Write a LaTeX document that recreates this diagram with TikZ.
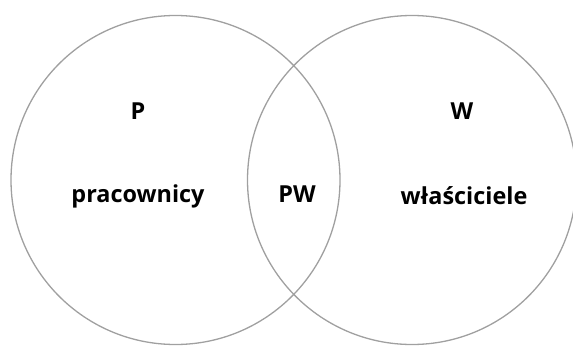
\documentclass[tikz,border=0pt]{standalone}
\usepackage{fontspec}
\setmainfont{Open Sans}
\usepackage{xcolor}
\usepackage{tikz}
\definecolor{szary}{HTML}{A0A0A0}
\tikzset{zbior/.style={draw=szary,circle,line width=1.3bp,inner sep=0pt,minimum size=329bp},
  etyk/.style={inner sep=1pt,font=\fontsize{23.5}{26}\selectfont\bfseries}}
\newcommand{\nzbior}[2]{\node[zbior] (#1) at (#2) {};}
\newcommand{\netyk}[3]{\node[etyk] (#1) at (#2) {#3};}

\begin{document}
\begin{tikzpicture}[x=1bp,y=1bp]
    \useasboundingbox (0,0) rectangle (573,345);
    \nzbior{kolP}{175.5,165}
    \nzbior{kolW}{412,165}

    \netyk{P}{138,234}{P}
    \netyk{prac}{138,149}{pracownicy}
    \netyk{PW}{297,151}{PW}
    \netyk{W}{462,234}{W}
    \netyk{wlasc}{464,149}{właściciele}
\end{tikzpicture}
\end{document}
